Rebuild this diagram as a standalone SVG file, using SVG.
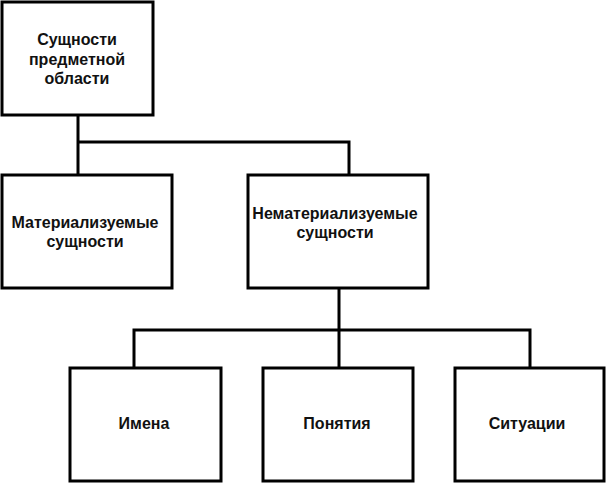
<svg xmlns="http://www.w3.org/2000/svg" width="608" height="483" viewBox="0 0 608 483">
<style>
.box{fill:#fff;stroke:#000;stroke-width:3}
.ln{fill:none;stroke:#000;stroke-width:3}
text{font-family:"Liberation Sans",Arial,sans-serif;font-weight:bold;font-size:16px;fill:#111;text-anchor:middle}
</style>
<rect width="608" height="483" fill="#fff"/>
<g id="connectors">
<path class="ln" d="M78 115V175M78 142H349V175"/>
<path class="ln" d="M339 288V368M134 368V330H530V368"/>
</g>
<g id="root">
<rect class="box" x="2" y="2" width="151" height="113"/>
<text x="77" y="45">Сущности</text>
<text x="77" y="65">предметной</text>
<text x="77" y="84">области</text>
</g>
<g id="material">
<rect class="box" x="2" y="175" width="170" height="113"/>
<text x="85" y="228">Материализуемые</text>
<text x="85" y="247">сущности</text>
</g>
<g id="nonmaterial">
<rect class="box" x="248" y="175" width="180" height="113"/>
<text x="335" y="219">Нематериализуемые</text>
<text x="335" y="238">сущности</text>
</g>
<g id="names">
<rect class="box" x="70" y="368" width="151" height="113"/>
<text x="144" y="429">Имена</text>
</g>
<g id="concepts">
<rect class="box" x="263" y="368" width="150" height="113"/>
<text x="337" y="429">Понятия</text>
</g>
<g id="situations">
<rect class="box" x="455" y="368" width="149" height="113"/>
<text x="527" y="429">Ситуации</text>
</g>
</svg>
